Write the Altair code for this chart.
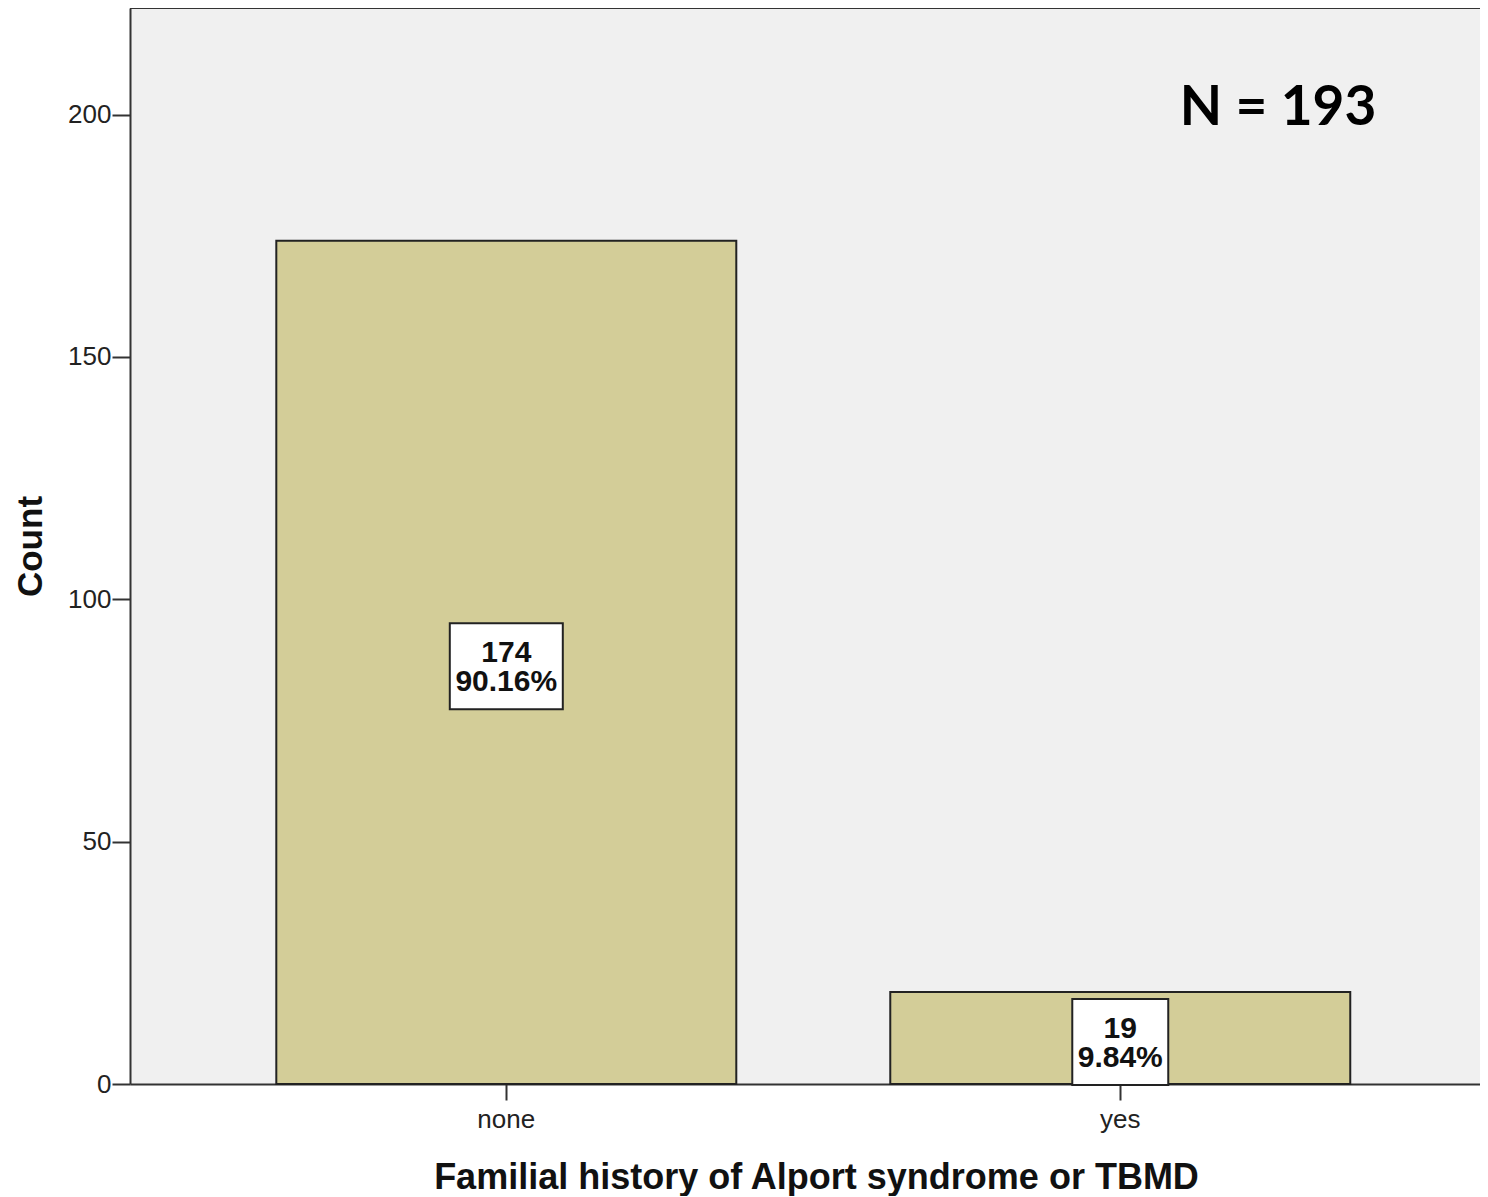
import altair as alt
import pandas as pd

categories = ["none", "yes"]
counts = [174, 19]
percents = ["90.16%", "9.84%"]

df = pd.DataFrame({"cat": categories, "count": counts, "pct": percents})
ndf = pd.DataFrame({"label": [f"N = {sum(counts)}"]})

W, H = 1350, 1076
xscale = alt.Scale(domain=categories, paddingInner=0.2508, paddingOuter=0.2248, align=0.53)
yscale = alt.Scale(domain=[0, 222], nice=False)

base = alt.Chart(df)

bars = base.mark_bar(fill="#D3CD98", stroke="#222222", strokeWidth=2).encode(
    x=alt.X("cat:N", scale=xscale, sort=categories,
            axis=alt.Axis(title="Familial history of Alport syndrome or TBMD",
                          titleFontSize=36, titleFontWeight="bold", titleColor="#111111",
                          titleX=686, titleY=104, titleBaseline="alphabetic", titleAlign="center",
                          labelAngle=0, labelFontSize=26, labelColor="#222222",
                          tickSize=16, labelPadding=6, grid=False)),
    y=alt.Y("count:Q", scale=yscale,
            axis=alt.Axis(values=[0, 50, 100, 150, 200], title="Count",
                          titleFontSize=35, titleFontWeight="bold", titleColor="#111111",
                          titleX=-89, titleY=538, titleBaseline="alphabetic", titleAlign="center",
                          labelFontSize=26, labelColor="#222222",
                          tickSize=18, labelPadding=1, grid=False)),
)

path_none = "M-1.314,-1 L1.314,-1 L1.314,1 L-1.314,1 Z"
path_yes = "M-1.116,-1 L1.116,-1 L1.116,1 L-1.116,1 Z"

boxes = base.transform_calculate(mid="datum.count / 2").mark_point(
    filled=True, fill="white", stroke="#222222", strokeWidth=2, opacity=1,
    fillOpacity=1, size=7396, yOffset=4
).encode(
    x=alt.X("cat:N", scale=xscale, sort=categories),
    y=alt.Y("mid:Q", scale=yscale),
    shape=alt.Shape("cat:N", scale=alt.Scale(domain=categories, range=[path_none, path_yes]), legend=None),
)

labels = base.transform_calculate(
    mid="datum.count / 2",
    lab="datum.count + '\\n' + datum.pct",
).mark_text(
    fontSize=30, fontWeight="bold", color="#111111", baseline="middle",
    lineBreak="\n", lineHeight=29, dy=-9
).encode(
    x=alt.X("cat:N", scale=xscale, sort=categories),
    y=alt.Y("mid:Q", scale=yscale),
    text="lab:N",
)

ntext = alt.Chart(ndf).mark_text(
    font="Lato", fontSize=55, fontWeight="bold", color="#000000", baseline="alphabetic", align="center"
).encode(x=alt.value(1148), y=alt.value(117), text="label:N")

topline = alt.Chart(ndf).mark_rule(stroke="#333333", strokeWidth=2).encode(
    x=alt.value(0), x2=alt.value(W), y=alt.value(0)
)

chart = alt.layer(bars, boxes, labels, ntext, topline).properties(
    width=W, height=H, autosize="none",
    padding={"left": 122, "top": 0, "right": 0, "bottom": 112},
).configure(font="Liberation Sans").configure_view(
    fill="#F0F0F0", stroke="transparent"
).configure_axis(
    domainColor="#333333", domainWidth=2, tickColor="#333333", tickWidth=2
)

chart.save("out.html", embed_options={"renderer": "svg", "actions": False})
